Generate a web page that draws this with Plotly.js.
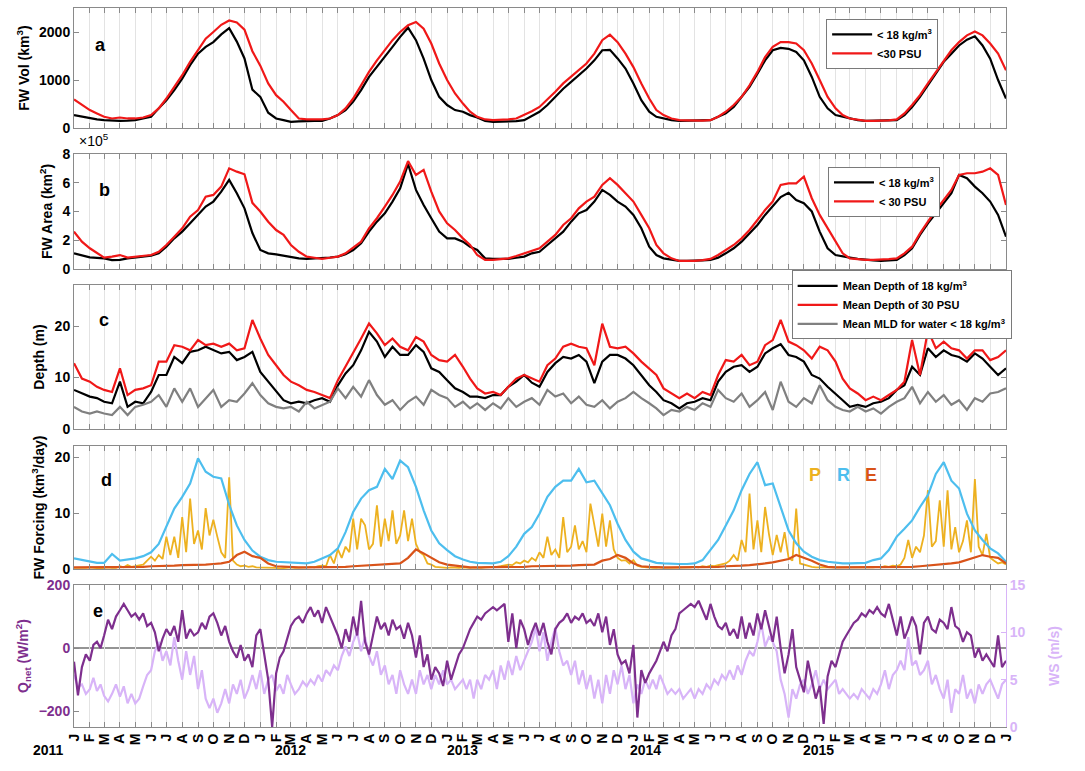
<!DOCTYPE html>
<html>
<head>
<meta charset="utf-8">
<script src="https://cdn.plot.ly/plotly-3.0.1.min.js"></script>
<style>
  html, body { margin: 0; padding: 0; background: #fff; }
  #chart { width: 1085px; height: 771px; }
</style>
</head>
<body>
<div id="chart"></div>
<script>
// ---------- DATA ----------
// Sampling: series on a half-month grid start at 2011-01-01 and step 0.5 month;
// series on a quarter-month grid step 0.25 month.
const START_YEAR = 2011;
const monthLetters = ['J','F','M','A','M','J','J','A','S','O','N','D'];
const yearLabels = ['2011','2012','2013','2014','2015'];

// Panel a: FW volume (km^3), half-month steps
const volRho = [
  270,235,200,180,165,150,150,155,165,200,235,410,
  580,790,1030,1310,1550,1690,1790,1950,2080,1800,1450,800,
  650,320,200,165,130,140,150,150,150,200,270,375,
  550,790,1065,1270,1480,1690,1900,2090,1830,1445,1000,650,
  480,375,340,270,220,150,130,130,130,145,165,250,
  340,480,650,820,960,1100,1240,1410,1620,1630,1450,1240,
  930,580,340,235,200,165,150,150,150,155,165,235,
  305,440,650,860,1135,1410,1620,1670,1650,1585,1410,1065,
  650,410,270,235,200,165,150,150,150,155,165,270,
  440,650,890,1135,1380,1550,1720,1840,1910,1720,1445,1000,
  615];
const volSal = [
  595,480,375,305,235,200,220,200,200,220,270,410,
  615,860,1100,1380,1620,1860,2000,2150,2240,2200,2050,1600,
  1300,930,685,550,375,200,180,180,180,200,270,410,
  615,890,1170,1410,1620,1830,2000,2140,2210,2070,1760,1345,
  1000,720,510,340,235,180,165,170,180,200,270,350,
  440,595,755,930,1065,1205,1345,1550,1830,1945,1790,1550,
  1270,930,615,375,270,200,165,160,150,155,165,235,
  340,480,650,890,1170,1480,1690,1790,1790,1760,1620,1345,
  1000,650,410,270,200,170,150,150,150,160,180,305,
  480,685,930,1170,1410,1620,1790,1930,2010,1930,1760,1550,
  1205];

// Panel b: FW area (x10^5 km^2), half-month steps
const areaRho = [
  1.09,0.93,0.81,0.77,0.74,0.62,0.63,0.74,0.79,0.86,0.93,1.09,
  1.55,2.13,2.6,3.18,3.76,4.34,4.69,5.38,6.2,5.27,4.22,2.5,
  1.32,1.09,1.02,0.93,0.79,0.74,0.70,0.72,0.74,0.80,0.86,1.02,
  1.32,1.79,2.6,3.29,3.87,4.69,5.61,7.3,5.5,4.45,3.53,2.6,
  2.13,2.13,1.9,1.55,1.32,0.74,0.70,0.70,0.70,0.78,0.86,1.09,
  1.2,1.67,2.13,2.6,3.29,3.87,4.1,4.69,5.5,5.15,4.69,4.34,
  3.76,2.83,1.55,0.97,0.74,0.63,0.56,0.56,0.56,0.60,0.63,0.79,
  1.09,1.44,1.9,2.48,3.06,3.76,4.34,5.0,5.3,4.8,4.57,4.0,
  2.6,1.44,0.97,0.86,0.79,0.70,0.63,0.60,0.56,0.60,0.63,0.97,
  1.44,2.37,3.18,3.87,4.57,5.27,6.54,6.31,5.73,5.27,4.69,3.76,
  2.25];
const areaSal = [
  2.6,1.9,1.44,1.09,0.79,0.86,0.97,0.79,0.86,0.9,0.97,1.2,
  1.67,2.25,2.83,3.64,4.1,5.03,5.15,5.73,7.0,6.77,6.59,4.6,
  4.0,3.29,2.71,2.37,1.67,1.2,0.86,0.78,0.70,0.78,0.86,1.09,
  1.48,1.9,2.83,3.53,4.34,5.15,6.08,7.5,6.54,6.89,5.38,4.0,
  3.18,2.71,2.13,1.67,0.97,0.63,0.63,0.68,0.74,0.9,1.09,1.3,
  1.44,1.9,2.37,3.06,3.53,4.22,4.69,5.03,5.85,6.31,5.85,5.27,
  4.69,3.76,2.83,1.67,1.09,0.74,0.56,0.56,0.56,0.62,0.70,0.97,
  1.32,1.67,2.13,2.71,3.41,4.1,4.69,5.85,5.96,5.96,6.43,4.92,
  3.76,2.83,1.9,1.09,0.74,0.68,0.63,0.63,0.63,0.68,0.74,1.09,
  1.55,2.48,3.29,4.1,4.8,5.5,6.54,6.66,6.66,6.77,7.0,6.54,
  4.45];

// Panel c: depths (m), half-month steps
const depthRho = [
  7.6,6.9,6.3,6.0,5.3,5.0,9.2,4.3,5.3,5.0,7.2,10.5,
  10.5,14.0,12.8,15.0,15.3,16.0,15.3,14.7,15.0,13.4,14.0,15.0,
  11.1,9.2,7.2,5.6,5.0,5.3,5.0,5.6,6.0,5.3,8.5,10.8,
  12.4,15.3,18.9,17.0,14.0,16.0,14.4,14.4,16.3,15.0,11.8,11.1,
  9.5,7.9,7.2,6.3,6.3,6.0,6.6,6.6,8.2,9.2,10.5,9.0,
  8.2,11.1,12.8,14.0,13.7,14.4,13.1,8.9,13.1,14.4,14.4,13.7,
  12.4,10.5,8.5,7.2,5.6,5.0,4.0,5.0,5.3,6.0,5.6,9.2,
  11.1,12.1,12.4,11.1,12.1,14.7,15.7,16.5,14.4,14.0,13.1,10.5,
  9.8,8.2,6.9,5.6,4.3,4.7,4.3,5.0,5.3,6.0,7.6,8.5,
  12.1,10.5,15.7,14.0,15.3,14.4,14.0,13.1,14.7,13.7,12.1,10.5,
  11.8];
const depthSal = [
  12.8,9.8,9.2,8.2,7.6,7.2,11.8,6.6,7.6,7.9,8.5,13.1,
  13.1,16.3,16.0,15.3,17.3,16.3,16.6,16.0,16.6,15.3,15.7,21.2,
  17.6,14.4,12.4,10.5,9.2,8.5,7.6,7.2,6.6,6.0,9.5,12.1,
  14.7,17.6,20.5,18.6,16.3,17.6,16.0,15.3,17.9,17.0,14.4,13.4,
  13.1,14.4,12.1,9.8,7.9,6.9,7.2,6.6,8.2,9.8,10.5,9.8,
  9.2,12.4,13.7,16.0,16.6,16.0,15.7,12.4,20.5,16.0,15.7,16.0,
  14.7,13.1,11.8,10.5,7.9,6.9,6.0,6.9,6.0,7.2,6.6,10.5,
  13.4,13.1,14.4,12.4,13.1,16.3,17.3,21.2,17.0,16.3,15.3,13.7,
  16.0,15.3,13.1,9.8,7.9,6.9,5.6,6.3,5.6,6.6,7.6,9.2,
  17.3,10.5,19.2,15.7,17.0,15.7,15.3,13.7,15.3,15.3,13.4,14.0,
  15.3];
const mld = [
  4.3,3.4,3.0,3.4,3.0,2.7,4.3,2.7,4.3,4.7,5.3,6.6,
  4.3,7.9,5.3,7.9,4.3,6.0,7.6,4.3,5.6,5.3,6.9,8.9,
  6.6,5.0,4.3,4.0,4.3,3.4,5.3,4.0,4.7,5.3,7.9,6.0,
  8.2,6.3,9.5,6.6,4.7,5.6,3.7,5.3,6.3,4.7,7.6,6.6,
  6.0,4.3,5.3,4.0,5.0,3.7,5.0,4.0,6.0,4.3,5.3,6.0,
  4.7,7.6,6.3,6.9,5.0,6.3,4.7,4.3,5.6,4.0,5.3,6.0,
  7.2,6.0,5.0,4.0,2.7,3.7,3.4,4.3,3.7,5.0,4.3,7.6,
  6.0,5.3,6.9,4.3,5.6,7.2,3.7,9.2,5.3,4.3,6.0,5.0,
  8.5,5.6,4.3,3.7,3.4,4.3,3.4,4.0,3.0,4.3,5.3,6.0,
  8.2,5.0,7.2,5.3,6.6,4.7,5.6,3.7,6.0,5.3,6.9,7.2,
  7.9];

// Panel d: freshwater forcing (km^3/day)
// R (runoff) and E on half-month steps, P on quarter-month steps
const runoff = [
  1.9,1.6,1.3,1.1,1.1,2.7,1.5,1.7,1.9,2.3,3.0,4.5,
  7.6,10.8,12.9,15.3,19.8,17.4,16.5,16.2,11.5,7.8,5.2,3.3,
  2.2,1.6,1.3,1.2,1.1,1.0,1.0,1.3,1.9,2.5,3.7,6.6,
  10.2,12.6,14.1,14.7,17.9,16.1,19.4,18.2,14.7,10.5,6.9,4.6,
  3.4,2.3,1.7,1.3,1.1,1.0,1.0,1.3,2.3,4.0,6.3,7.5,
  9.9,12.9,14.7,15.8,15.8,17.9,15.5,15.8,13.5,11.4,8.1,5.2,
  3.1,1.9,1.5,1.1,1.0,0.9,0.9,0.9,1.0,1.6,3.4,5.2,
  7.8,10.5,14.1,17.0,19.1,15.0,15.3,11.1,6.9,4.6,3.1,2.2,
  1.6,1.3,1.1,1.0,1.0,1.0,1.1,1.6,1.9,3.4,5.8,7.2,
  8.7,11.1,13.2,17.0,19.1,15.8,14.4,9.9,6.9,5.2,3.7,2.8,
  1.3];
const evap = [
  0.3,0.3,0.3,0.3,0.3,0.3,0.3,0.3,0.4,0.4,0.5,0.5,
  0.6,0.6,0.7,0.7,0.8,0.8,0.9,1.0,1.3,2.5,3.1,2.3,
  2.0,1.0,0.5,0.4,0.3,0.3,0.3,0.3,0.3,0.3,0.4,0.4,
  0.5,0.6,0.7,0.8,0.9,1.0,1.0,2.0,3.5,2.8,2.0,1.2,
  0.8,0.6,0.4,0.3,0.3,0.3,0.3,0.3,0.3,0.4,0.4,0.5,
  0.5,0.5,0.5,0.6,0.6,0.7,0.7,0.8,1.5,1.8,2.5,2.0,
  1.0,0.5,0.4,0.3,0.3,0.3,0.3,0.3,0.3,0.3,0.4,0.4,
  0.5,0.5,0.6,0.7,0.8,1.0,1.2,1.5,1.8,2.5,2.0,1.5,
  0.8,0.4,0.3,0.3,0.3,0.3,0.3,0.3,0.3,0.3,0.4,0.4,
  0.4,0.5,0.6,0.7,0.8,1.0,1.2,1.6,2.0,2.5,2.2,2.0,
  1.0];
const precip = [
  0.2,0.2,0.1,0.2,0.3,0.2,0.2,0.1,0.2,0.3,0.2,0.2,
  0.5,0.3,0.7,0.4,0.5,0.6,0.8,1.5,2.2,1.5,2.5,1.8,
  5.8,2.5,5.8,2.0,9.3,3.0,12.6,4.5,6.9,3.5,10.9,6.0,
  8.8,5.8,3.0,2.0,16.4,1.5,0.8,0.5,0.6,0.4,0.5,0.3,
  0.3,0.2,0.2,0.3,0.2,0.1,0.2,0.2,0.3,0.2,0.2,0.3,
  0.3,0.4,0.3,0.5,0.6,0.5,2.5,1.0,3.5,2.0,4.0,3.0,
  9.0,3.5,9.0,7.8,3.5,4.5,11.4,4.0,9.0,5.0,10.5,4.5,
  6.0,10.5,5.0,9.0,4.5,3.0,2.5,1.0,0.8,0.4,0.3,0.3,
  0.2,0.3,0.2,0.2,0.3,0.2,0.2,0.3,0.2,0.2,0.3,0.3,
  0.3,0.4,0.5,0.6,0.8,0.7,1.2,1.0,1.5,1.2,2.0,1.5,
  3.0,2.0,5.8,2.5,3.5,2.0,9.3,3.0,4.0,7.8,3.5,5.0,
  3.0,11.7,7.5,4.0,9.9,4.0,8.7,3.5,2.0,1.5,1.6,1.0,
  1.6,0.6,0.4,0.3,0.3,0.2,0.2,0.3,0.2,0.2,0.3,0.2,
  0.2,0.3,0.2,0.3,0.4,0.3,0.5,0.4,0.6,0.5,0.7,0.8,
  1.0,1.5,2.5,1.5,5.2,3.0,13.5,3.5,8.7,3.0,11.1,6.3,
  2.5,6.1,3.0,6.6,2.0,1.5,10.8,1.0,0.8,0.5,0.4,0.3,
  0.3,0.2,0.2,0.3,0.2,0.2,0.3,0.2,0.2,0.3,0.2,0.2,
  0.3,0.2,0.3,0.4,0.3,0.5,0.4,0.6,0.5,0.8,2.0,5.2,
  2.0,4.0,3.0,6.0,14.1,4.0,5.0,12.3,4.0,14.1,3.5,7.5,
  3.0,5.0,8.7,3.0,16.1,4.0,2.5,6.3,2.0,1.5,1.0,1.2,
  0.8];

// Panel e: net heat flux (W/m^2) and wind speed (m/s), quarter-month steps
const qnet = [
  -43,-150,-60,-20,-40,10,20,0,40,90,60,100,
  120,140,120,100,110,90,110,70,80,50,-10,30,
  60,40,70,20,120,30,60,40,50,80,60,100,
  110,80,40,70,20,-10,-30,10,-40,-20,-60,40,
  60,-20,-100,-250,-80,-30,-10,30,70,90,100,80,
  110,130,100,120,80,130,100,70,40,0,60,20,
  100,40,150,20,-20,40,100,60,80,40,90,60,
  70,30,80,40,-30,40,-60,-20,-100,-60,-80,-120,
  -40,-100,-60,-20,0,30,60,80,100,90,110,120,
  130,120,130,140,20,110,0,90,60,10,50,80,
  40,80,20,-20,60,80,90,110,80,100,90,110,
  80,90,70,110,50,100,10,60,-20,-50,-40,-80,
  10,-220,-70,-110,-80,-60,-40,-10,20,-10,40,60,
  110,120,130,140,130,150,120,90,140,100,70,60,
  80,40,60,30,100,30,80,40,110,60,120,70,
  20,100,0,-80,-20,60,-60,-100,-140,-40,-100,-160,
  -120,-240,-90,-40,-60,-20,20,40,60,80,90,110,
  100,120,110,130,110,100,140,90,40,100,30,60,
  100,70,-20,80,100,60,50,90,80,60,130,70,
  60,20,50,40,-30,0,-40,-20,-40,-60,40,-60,
  -40];
const wind = [
  5.5,4.2,4.5,3.5,4.0,5.2,3.8,4.5,3.3,2.7,3.5,4.5,
  3.2,4.3,2.5,3.5,2.5,3.0,4.3,5.5,6.0,8.0,9.0,7.0,
  8.0,6.5,9.5,7.0,5.0,8.0,5.5,7.5,4.0,6.0,3.0,2.0,
  3.0,1.5,2.5,4.0,2.5,4.5,3.5,5.0,3.0,4.0,5.5,4.0,
  6.0,3.5,5.0,5.5,3.8,4.5,3.5,5.5,4.5,3.5,4.0,4.8,
  4.3,5.0,4.5,5.5,4.8,6.0,5.5,6.5,6.0,7.5,8.5,7.5,
  9.0,10.0,8.0,9.5,7.5,6.5,8.0,5.5,6.5,4.5,5.5,3.5,
  6.0,4.5,3.5,5.0,3.5,6.0,4.5,5.5,4.0,5.5,4.5,6.0,
  4.5,5.0,4.0,4.5,5.0,4.0,5.0,3.0,5.0,4.0,5.5,5.0,
  6.0,4.0,6.5,5.0,7.0,5.5,7.5,6.0,7.0,8.0,9.0,10.5,
  8.0,10.0,7.0,9.0,10.5,8.0,6.5,7.0,5.5,7.0,4.5,6.0,
  4.0,5.5,3.0,5.0,2.5,5.5,3.5,6.0,4.5,6.5,4.0,5.5,
  2.5,4.5,3.5,5.0,4.0,5.0,4.0,5.5,4.5,3.5,4.0,3.5,
  4.0,3.0,3.5,4.0,3.0,4.0,3.5,4.5,4.0,5.0,4.5,5.5,
  5.0,6.0,5.0,6.5,5.5,7.0,8.0,7.5,9.0,11.0,8.5,9.5,
  9.0,8.0,5.0,3.5,1.0,4.0,3.0,4.5,5.0,3.5,4.5,6.0,
  4.0,5.0,4.0,4.5,5.0,3.5,4.0,3.5,3.0,3.5,3.0,4.0,
  3.5,3.0,4.0,3.5,4.5,6.0,4.0,5.5,6.0,7.0,6.0,9.5,
  6.5,7.0,5.5,6.0,7.0,4.5,5.5,4.0,3.0,5.0,1.5,4.0,
  3.5,5.5,3.0,4.0,2.5,4.5,3.5,4.5,5.0,4.0,3.0,4.5,
  5.0];

// ---------- helpers: time grid ----------
function pad(n){ return (n < 10 ? '0' : '') + n; }
function monthToDate(m){
  const mi = Math.floor(m + 1e-9);
  const y = START_YEAR + Math.floor(mi / 12);
  const mo = mi % 12;
  const frac = m - mi;
  const dim = new Date(Date.UTC(y, mo + 1, 0)).getUTCDate();
  const dayF = 1 + frac * dim;
  const d = Math.floor(dayF);
  const h = Math.round((dayF - d) * 24);
  return y + '-' + pad(mo + 1) + '-' + pad(d) + ' ' + pad(Math.min(h,23)) + ':00';
}
function grid(arr, step){ return arr.map((_, i) => monthToDate(i * step)); }

// ---------- styling ----------
const FONT = 'Liberation Sans, Arial, Helvetica, sans-serif';
const RED = '#f01818', BLACK = '#000000', GRAY = '#808080';
const PCOL = '#EDB120', RCOL = '#4DBEEE', ECOL = '#D95319';
const QCOL = '#7E2F8E', WCOL = '#D8B4F8';
const FRAME = '#8a8a8a';

const tickVals = [], tickText = [];
for (let i = 0; i <= 60; i++) { tickVals.push(monthToDate(i)); tickText.push(monthLetters[i % 12]); }

function xAxis(domainAnchor, showLabels){
  return {
    type: 'date', range: ['2011-01-01', '2016-01-01'], anchor: domainAnchor,
    tickmode: 'array', tickvals: tickVals, ticktext: tickText,
    showticklabels: showLabels, tickangle: -90,
    tickfont: {family: FONT, size: 14, color: '#000', weight: 'bold'},
    ticks: 'inside', ticklen: 5, tickcolor: FRAME, tickwidth: 1,
    showgrid: true, gridcolor: '#e3e3e3', gridwidth: 1,
    showline: true, linecolor: FRAME, linewidth: 1, mirror: 'ticks',
    zeroline: false, fixedrange: true
  };
}
function yAxis(domain, range, tickvals, titleText, extra){
  return Object.assign({
    domain: domain, range: range, tickvals: tickvals,
    tickfont: {family: FONT, size: 14, color: '#000', weight: 'bold'},
    ticks: 'inside', ticklen: 5, tickcolor: FRAME,
    showline: true, linecolor: FRAME, linewidth: 1, mirror: 'ticks',
    showgrid: false, zeroline: false,
    title: {text: titleText, font: {family: FONT, size: 14, color: '#000', weight: 'bold'}, standoff: 6}
  }, extra || {});
}

const tHalf = (a) => grid(a, 0.5);
const tQuarter = (a) => grid(a, 0.25);

const traces = [
  // panel a
  {x: tHalf(volRho), y: volRho, xaxis: 'x', yaxis: 'y', type: 'scatter', mode: 'lines',
   name: '< 18 kg/m<sup>3</sup>', line: {color: BLACK, width: 2.2}, legend: 'legend'},
  {x: tHalf(volSal), y: volSal, xaxis: 'x', yaxis: 'y', type: 'scatter', mode: 'lines',
   name: '<30 PSU', line: {color: RED, width: 2.2}, legend: 'legend'},
  // panel b
  {x: tHalf(areaRho), y: areaRho, xaxis: 'x2', yaxis: 'y2', type: 'scatter', mode: 'lines',
   name: '< 18 kg/m<sup>3</sup>', line: {color: BLACK, width: 2.2}, legend: 'legend2'},
  {x: tHalf(areaSal), y: areaSal, xaxis: 'x2', yaxis: 'y2', type: 'scatter', mode: 'lines',
   name: '< 30 PSU', line: {color: RED, width: 2.2}, legend: 'legend2'},
  // panel c
  {x: tHalf(depthRho), y: depthRho, xaxis: 'x3', yaxis: 'y3', type: 'scatter', mode: 'lines',
   name: 'Mean Depth of 18 kg/m<sup>3</sup>', line: {color: BLACK, width: 2.2}, legend: 'legend3'},
  {x: tHalf(depthSal), y: depthSal, xaxis: 'x3', yaxis: 'y3', type: 'scatter', mode: 'lines',
   name: 'Mean Depth of 30 PSU', line: {color: RED, width: 2.2}, legend: 'legend3'},
  {x: tHalf(mld), y: mld, xaxis: 'x3', yaxis: 'y3', type: 'scatter', mode: 'lines',
   name: 'Mean MLD for water < 18 kg/m<sup>3</sup>', line: {color: GRAY, width: 2.2}, legend: 'legend3'},
  // panel d
  {x: tQuarter(precip), y: precip, xaxis: 'x4', yaxis: 'y4', type: 'scatter', mode: 'lines',
   name: 'P', line: {color: PCOL, width: 1.8}, showlegend: false},
  {x: tHalf(runoff), y: runoff, xaxis: 'x4', yaxis: 'y4', type: 'scatter', mode: 'lines',
   name: 'R', line: {color: RCOL, width: 2.2}, showlegend: false},
  {x: tHalf(evap), y: evap, xaxis: 'x4', yaxis: 'y4', type: 'scatter', mode: 'lines',
   name: 'E', line: {color: ECOL, width: 2.2}, showlegend: false},
  // panel e
  {x: tQuarter(wind), y: wind, xaxis: 'x5', yaxis: 'y5', type: 'scatter', mode: 'lines',
   name: 'WS', line: {color: WCOL, width: 2.2}, showlegend: false},
  {x: tQuarter(qnet), y: qnet, xaxis: 'x5', yaxis: 'y6', type: 'scatter', mode: 'lines',
   name: 'Qnet', line: {color: QCOL, width: 2.2}, showlegend: false}
];

const D = {
  a: [0.833, 1.0], b: [0.637, 0.797], c: [0.4145, 0.6147], d: [0.2197, 0.3908], e: [0.0, 0.1975]
};

const legendBase = {
  bgcolor: '#ffffff', bordercolor: '#7a7a7a', borderwidth: 1,
  font: {family: FONT, size: 11, color: '#000', weight: 'bold'},
  xanchor: 'left', yanchor: 'top', tracegroupgap: 0, itemwidth: 40,
  traceorder: 'normal'
};

const layout = {
  width: 1085, height: 771,
  margin: {l: 74, r: 79, t: 8, b: 44},
  paper_bgcolor: '#ffffff', plot_bgcolor: '#ffffff',
  font: {family: FONT, size: 14, color: '#000'},
  showlegend: true,
  legend: Object.assign({}, legendBase, {x: 0.807, y: 0.985}),
  legend2: Object.assign({}, legendBase, {x: 0.809, y: 0.779}),
  legend3: Object.assign({}, legendBase, {x: 0.770, y: 0.635}),
  xaxis: xAxis('y', false),
  xaxis2: xAxis('y2', false),
  xaxis3: xAxis('y3', false),
  xaxis4: xAxis('y4', false),
  xaxis5: xAxis('y5', true),
  yaxis: yAxis(D.a, [0, 2500], [0, 1000, 2000], 'FW Vol (km<sup>3</sup>)'),
  yaxis2: yAxis(D.b, [0, 8], [0, 2, 4, 6, 8], 'FW Area (km<sup>2</sup>)'),
  yaxis3: yAxis(D.c, [0, 28], [0, 10, 20], 'Depth (m)'),
  yaxis4: yAxis(D.d, [0, 22], [0, 10, 20], 'FW Forcing (km<sup>3</sup>/day)'),
  yaxis5: yAxis(D.e, [0, 15], [0, 5, 10, 15], 'WS (m/s)', {
    side: 'right', mirror: false, linecolor: WCOL, tickcolor: WCOL,
    tickfont: {family: FONT, size: 14, color: WCOL, weight: 'bold'},
    title: {text: 'WS (m/s)', font: {family: FONT, size: 14, color: WCOL, weight: 'bold'}, standoff: 24}
  }),
  yaxis6: yAxis(D.e, [-250, 200], [-200, 0, 200], 'Q<sub>net</sub> (W/m<sup>2</sup>)', {
    overlaying: 'y5', side: 'left', anchor: 'x5', mirror: false,
    linecolor: FRAME,
    tickfont: {family: FONT, size: 14, color: QCOL, weight: 'bold'},
    title: {text: 'Q<sub>net</sub> (W/m<sup>2</sup>)', font: {family: FONT, size: 14, color: QCOL, weight: 'bold'}, standoff: 6}
  }),
  shapes: [
    {type: 'line', xref: 'x5 domain', yref: 'y6', x0: 0, x1: 1, y0: 0, y1: 0,
     line: {color: '#707070', width: 1.5}, layer: 'below'}
  ],
  annotations: []
};

// panel letters
const letters = [['a','x','y',0.02,0.79],['b','x2','y2',0.025,0.79],['c','x3','y3',0.025,0.84],
                 ['d','x4','y4',0.027,0.82],['e','x5','y5',0.018,0.90]];
letters.forEach(([t, xa, ya, xx, yy]) => layout.annotations.push({
  text: t, xref: xa + ' domain', yref: ya + ' domain', x: xx, y: yy,
  showarrow: false, font: {family: FONT, size: 18, color: '#000', weight: 'bold'}
}));
// x10^5 multiplier label
layout.annotations.push({text: '×10<sup>5</sup>', xref: 'paper', yref: 'paper', x: 0.003, y: 0.801,
  xanchor: 'left', yanchor: 'bottom', showarrow: false, font: {family: FONT, size: 14, color: '#000'}});
// P R E labels
[['P', PCOL, 0.804], ['R', RCOL, 0.835], ['E', ECOL, 0.864]].forEach(([t, c, xx]) =>
  layout.annotations.push({text: t, xref: 'paper', yref: 'paper', x: xx, y: 0.350,
    showarrow: false, font: {family: FONT, size: 18, color: c, weight: 'bold'}}));
// Year labels
const yearX = [-0.046, 0.2135, 0.417, 0.6127, 0.8176];
yearLabels.forEach((t, i) => layout.annotations.push({text: t, xref: 'paper', yref: 'paper',
  x: yearX[i], y: -0.046, showarrow: false, font: {family: FONT, size: 14, color: '#000', weight: 'bold'}}));

Plotly.newPlot('chart', traces, layout, {staticPlot: true, displayModeBar: false});
</script>
</body>
</html>
